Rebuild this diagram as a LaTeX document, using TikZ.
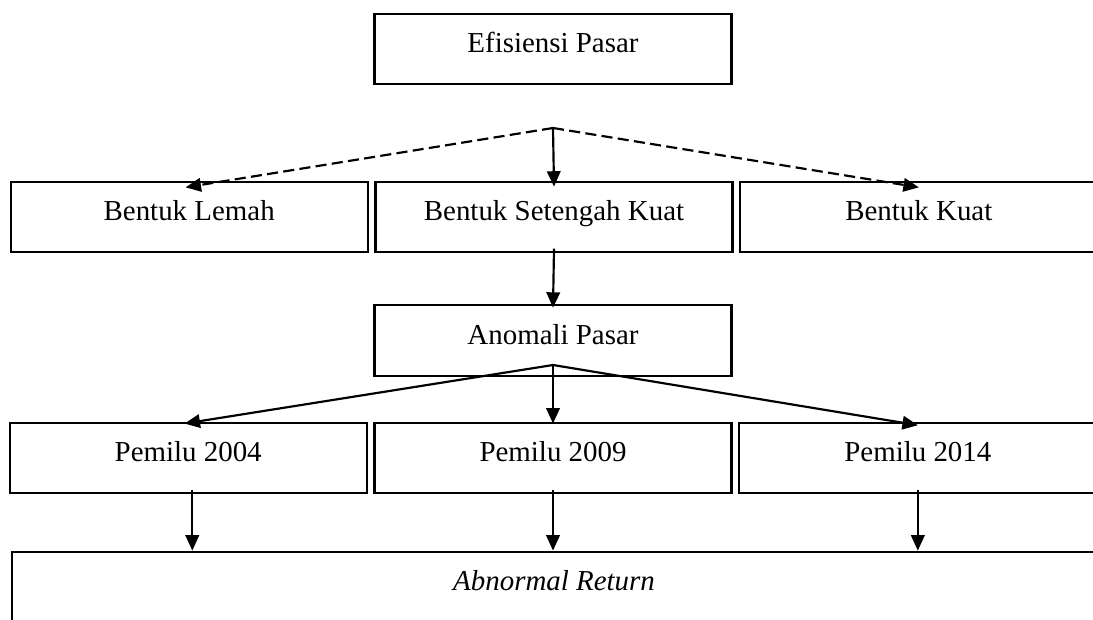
\documentclass[tikz,border=0pt]{standalone}
\usepackage{fontspec}
\setmainfont{Liberation Serif}
\usetikzlibrary{arrows.meta, positioning}

\begin{document}
\begin{tikzpicture}[
		x=0.415pt, y=-0.415pt,
		kotak/.style={draw, rectangle, minimum width=148.2pt, minimum height=29.3pt, inner sep=0pt, text height=8pt, text depth=4.8pt, align=center, font=\fontsize{12}{14}\selectfont, line width=0.9pt},
		panah/.style={-{Triangle[length=6.4pt, width=5.6pt]}, line width=0.9pt},
		putus/.style={panah, dash pattern=on 4.6pt off 2.2pt}
	]
	\useasboundingbox (0,0) rectangle (1093,619);
	\clip (0,0) rectangle (1093,619);

	% Kotak atas
	\node[kotak] (efisiensi) at (553,49) {Efisiensi Pasar};

	% Baris bentuk efisiensi
	\node[kotak] (setengah) at (554,217) {Bentuk Setengah Kuat};
	\node[kotak, left=2.3pt of setengah] (lemah) {Bentuk Lemah};
	\node[kotak, right=2.3pt of setengah] (kuat) {Bentuk Kuat};

	% Anomali
	\node[kotak] (anomali) at (553,340.5) {Anomali Pasar};

	% Baris pemilu
	\node[kotak] (p2009) at (553,458) {Pemilu 2009};
	\node[kotak, left=2.3pt of p2009] (p2004) {Pemilu 2004};
	\node[kotak, right=2.3pt of p2009] (p2014) {Pemilu 2014};

	% Kotak bawah
	\node[kotak, minimum width=449.9pt] (abnormal) at (554,587) {\textit{Abnormal Return}};

	% Titik cabang
	\coordinate (cabang1) at (553,128);
	\coordinate (cabang2) at (553,365);

	% Garis putus-putus ke bentuk
	\draw[putus] (cabang1) -- ([xshift=-1.5pt, yshift=-2.8pt]lemah.north);
	\draw[putus] (cabang1) -- ([yshift=-2.8pt]kuat.north);
	\draw[panah] (cabang1) -- ([yshift=-2.5pt]setengah.north);

	% Ke anomali
	\draw[panah] ([yshift=2pt]setengah.south) -- ([yshift=-1.5pt]anomali.north);

	% Anomali ke pemilu
	\draw[panah] (cabang2) -- ([xshift=-1.5pt, yshift=-0.8pt]p2004.north);
	\draw[panah] (cabang2) -- ([yshift=-0.8pt]p2009.north);
	\draw[panah] (cabang2) -- ([yshift=-1.5pt]p2014.north);

	% Pemilu ke abnormal return
	\draw[panah] ([xshift=1.7pt, yshift=2pt]p2004.south) -- ([xshift=1.7pt]p2004.south |- abnormal.north);
	\draw[panah] ([yshift=2pt]p2009.south) -- (p2009.south |- abnormal.north);
	\draw[panah] ([yshift=2pt]p2014.south) -- (p2014.south |- abnormal.north);
\end{tikzpicture}
\end{document}
